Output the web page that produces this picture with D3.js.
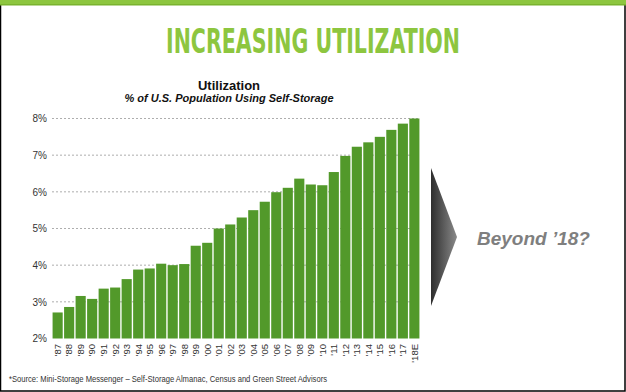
<!DOCTYPE html>
<html><head><meta charset="utf-8">
<script src="https://cdn.jsdelivr.net/npm/d3@7"></script>
<style>body{margin:0;background:#fff}svg{display:block}</style>
</head><body>
<script>
const categories = ["'87","'88","'89","'90","'91","'92","'93","'94","'95","'96","'97","'98","'99","'00","'01","'02","'03","'04","'05","'06","'07","'08","'09","'10","'11","'12","'13","'14","'15","'16","'17","'18E"];
const utilization = [2.71,2.86,3.16,3.08,3.36,3.39,3.62,3.88,3.91,4.04,4.00,4.03,4.53,4.61,5.00,5.11,5.30,5.50,5.73,5.99,6.11,6.36,6.20,6.18,6.54,6.98,7.23,7.35,7.50,7.69,7.86,8.00];
const yTicks = [2,3,4,5,6,7,8];

const W = 626, H = 392;
const svg = d3.select("body").append("svg").attr("width", W).attr("height", H);

// frame
svg.append("rect").attr("x",0.5).attr("y",0.5).attr("width",W-1.5).attr("height",H-1.5)
  .attr("fill","#fff").attr("stroke","#000").attr("stroke-width",1.5);
svg.append("rect").attr("x",0).attr("y",0).attr("width",W).attr("height",5).attr("fill","#8dc63f");
svg.append("rect").attr("x",0).attr("y",4).attr("width",W).attr("height",1.5).attr("fill","#7ab32f");

// big title
svg.append("text").attr("x",313).attr("y",53).attr("text-anchor","middle")
  .attr("font-family","DejaVu Sans Condensed, DejaVu Sans").attr("font-weight","bold")
  .attr("font-size",34).attr("fill","#8dc63f")
  .attr("textLength",294).attr("lengthAdjust","spacingAndGlyphs")
  .text("INCREASING UTILIZATION");

svg.append("text").attr("x",229).attr("y",90).attr("text-anchor","middle")
  .attr("font-family","Liberation Sans, Arial").attr("font-weight","bold").attr("font-size",13)
  .attr("fill","#111").text("Utilization");
svg.append("text").attr("x",229).attr("y",102).attr("text-anchor","middle")
  .attr("font-family","Liberation Sans, Arial").attr("font-weight","bold").attr("font-style","italic")
  .attr("font-size",11).attr("fill","#111").text("% of U.S. Population Using Self-Storage");

const x = d3.scaleBand().domain(categories).range([52, 420]).paddingInner(0.12).paddingOuter(0.05);
const y = d3.scaleLinear().domain([2, 8]).range([338.5, 118.5]);

// gridlines
svg.append("g").selectAll("line").data(yTicks.slice(1)).join("line")
  .attr("x1",52).attr("x2",420).attr("y1",d=>y(d)).attr("y2",d=>y(d))
  .attr("stroke","#999").attr("stroke-width",0.8).attr("stroke-dasharray","2,2");

// y axis
const yAxis = svg.append("g").attr("transform","translate(47,0)")
  .call(d3.axisLeft(y).tickValues(yTicks).tickFormat(d=>d+"%").tickSize(0).tickPadding(0));
yAxis.select(".domain").remove();
yAxis.selectAll("text").attr("font-family","Liberation Sans, Arial").attr("font-size",10).attr("fill","#333");

// bars
svg.append("g").selectAll("rect").data(utilization).join("rect")
  .attr("x",(d,i)=>x(categories[i])).attr("width",x.bandwidth())
  .attr("y",d=>y(d)).attr("height",d=>y(2)-y(d))
  .attr("fill","#52992a");

// x axis
const xAxis = svg.append("g").attr("transform","translate(0,343)")
  .call(d3.axisBottom(x).tickSize(0).tickPadding(0));
xAxis.select(".domain").remove();
xAxis.selectAll("text").attr("font-family","Liberation Sans, Arial").attr("font-size",9.5).attr("fill","#333")
  .attr("transform","rotate(-90)").attr("text-anchor","end").attr("dy","0.35em").attr("dx","0").attr("y",0).attr("x",-1);

// arrow
const defs = svg.append("defs");
const g = defs.append("linearGradient").attr("id","ag").attr("x1","0").attr("x2","1");
g.append("stop").attr("offset","0").attr("stop-color","#2e2e2e");
g.append("stop").attr("offset","1").attr("stop-color","#8a8a8a");
svg.append("path").attr("d","M431,168 L457,237 L431,306 Z").attr("fill","url(#ag)");

svg.append("text").attr("x",477).attr("y",245)
  .attr("font-family","Liberation Sans, Arial").attr("font-weight","bold").attr("font-style","italic")
  .attr("font-size",19).attr("fill","#7f7f7f").text("Beyond \u201918?");

svg.append("text").attr("x",9).attr("y",382)
  .attr("font-family","Liberation Sans, Arial").attr("font-size",9).attr("fill","#333")
  .attr("textLength",318).attr("lengthAdjust","spacingAndGlyphs")
  .text("*Source: Mini-Storage Messenger \u2013 Self-Storage Almanac, Census and Green Street Advisors");
</script>
</body></html>
